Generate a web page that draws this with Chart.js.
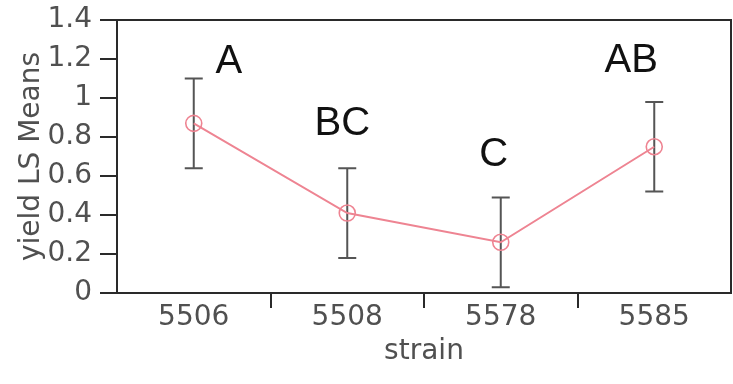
<!DOCTYPE html>
<html>
<head>
<meta charset="utf-8">
<script src="https://cdn.jsdelivr.net/npm/chart.js@4/dist/chart.umd.min.js"></script>
<style>
  html, body { margin: 0; padding: 0; background: #ffffff; }
  #wrap { width: 733px; height: 384px; position: relative; }
</style>
</head>
<body>
<div id="wrap"><canvas id="chart" width="733" height="384"></canvas></div>
<script>
// Least-squares means of yield per strain, with their error bars
const strains = ['5506', '5508', '5578', '5585'];
const lsMeans = [0.87, 0.41, 0.26, 0.75];
const lowerBars = [0.64, 0.18, 0.03, 0.52];
const upperBars = [1.10, 0.64, 0.49, 0.98];
// Connecting-letters report (strains sharing a letter do not differ)
const groupLetters = ['A', 'BC', 'C', 'AB'];
const yTickValues = [0, 0.2, 0.4, 0.6, 0.8, 1, 1.2, 1.4];
const yTickLabels = ['0', '0.2', '0.4', '0.6', '0.8', '1', '1.2', '1.4'];

const textFont = "'DejaVu Sans', Verdana, sans-serif";
const textGray = '#505050';
const axisColor = '#2a2a2a';
const lineColor = '#ee8492';

// Whiskers drawn under the markers
const errorBars = {
  id: 'errorBars',
  beforeDatasetsDraw(chart) {
    const { ctx, scales: { x, y } } = chart;
    const cap = 9;
    ctx.save();
    ctx.strokeStyle = '#555555';
    ctx.lineWidth = 2;
    strains.forEach((s, i) => {
      const px = x.getPixelForValue(i);
      const lo = y.getPixelForValue(lowerBars[i]);
      const hi = y.getPixelForValue(upperBars[i]);
      ctx.beginPath();
      ctx.moveTo(px, lo); ctx.lineTo(px, hi);
      ctx.moveTo(px - cap, lo); ctx.lineTo(px + cap, lo);
      ctx.moveTo(px - cap, hi); ctx.lineTo(px + cap, hi);
      ctx.stroke();
    });
    ctx.restore();
  }
};

// Frame around the plotting region
const frame = {
  id: 'frame',
  afterDraw(chart) {
    const { ctx, chartArea: a } = chart;
    ctx.save();
    ctx.strokeStyle = axisColor;
    ctx.lineWidth = 2;
    ctx.strokeRect(a.left, a.top, a.right - a.left, a.bottom - a.top);
    ctx.restore();
  }
};

// Group letters placed relative to the top of each whisker
const letters = {
  id: 'letters',
  afterDatasetsDraw(chart, args, opts) {
    const { ctx, scales: { x, y } } = chart;
    ctx.save();
    ctx.fillStyle = '#111111';
    ctx.font = opts.font;
    ctx.textAlign = 'center';
    ctx.textBaseline = 'alphabetic';
    groupLetters.forEach((t, i) => {
      const [dx, dy] = opts.offsets[i];
      ctx.fillText(t, x.getPixelForValue(i) + dx, y.getPixelForValue(upperBars[i]) + dy);
    });
    ctx.restore();
  }
};

new Chart(document.getElementById('chart'), {
  type: 'line',
  data: {
    labels: strains,
    datasets: [{
      data: lsMeans,
      borderColor: lineColor,
      borderWidth: 2,
      backgroundColor: 'rgba(0,0,0,0)',
      pointRadius: 8,
      pointBorderWidth: 1.6,
      pointBorderColor: lineColor,
      pointBackgroundColor: 'rgba(0,0,0,0)',
      tension: 0
    }]
  },
  options: {
    responsive: false,
    animation: false,
    devicePixelRatio: 1,
    layout: { autoPadding: false, padding: { top: 20, right: 2, left: 0, bottom: 0 } },
    plugins: {
      legend: { display: false },
      tooltip: { enabled: false },
      letters: {
        font: "40px 'Liberation Sans', Arial, sans-serif",
        offsets: [[35, -6], [-5, -33], [-7, -31], [-23, -30]]
      }
    },
    scales: {
      x: {
        type: 'category',
        offset: true,
        grid: {
          offset: true,
          drawOnChartArea: false,
          drawTicks: true,
          tickLength: 15,
          lineWidth: 2,
          // only the separators between strains get a tick mark
          color: (c) => (c.type === 'tick' && c.index > 0) ? axisColor : 'rgba(0,0,0,0)'
        },
        border: { display: false },
        ticks: {
          color: textGray,
          font: { family: textFont, size: 28 },
          padding: -7,
          maxRotation: 0,
          autoSkip: false
        },
        title: {
          display: true,
          text: 'strain',
          color: textGray,
          font: { family: textFont, size: 28 },
          padding: { top: 0, bottom: 15 }
        },
        afterFit(scale) {
          scale.height = 91;
          scale.paddingLeft = 0;
          scale.paddingRight = 0;
        }
      },
      y: {
        min: 0,
        max: 1.4,
        afterBuildTicks(scale) { scale.ticks = yTickValues.map(v => ({ value: v })); },
        grid: {
          drawOnChartArea: false,
          drawTicks: true,
          tickLength: 17,
          lineWidth: 2,
          color: axisColor
        },
        border: { display: false },
        ticks: {
          color: textGray,
          font: { family: textFont, size: 28 },
          padding: 8,
          callback: (v, i) => yTickLabels[i]
        },
        title: {
          display: true,
          text: 'yield LS Means',
          color: textGray,
          font: { family: textFont, size: 28 },
          padding: { top: 15, bottom: 0 }
        },
        afterFit(scale) {
          scale.width = 117;
          scale.paddingTop = 0;
          scale.paddingBottom = 0;
        }
      }
    }
  },
  plugins: [errorBars, frame, letters]
});
</script>
</body>
</html>
